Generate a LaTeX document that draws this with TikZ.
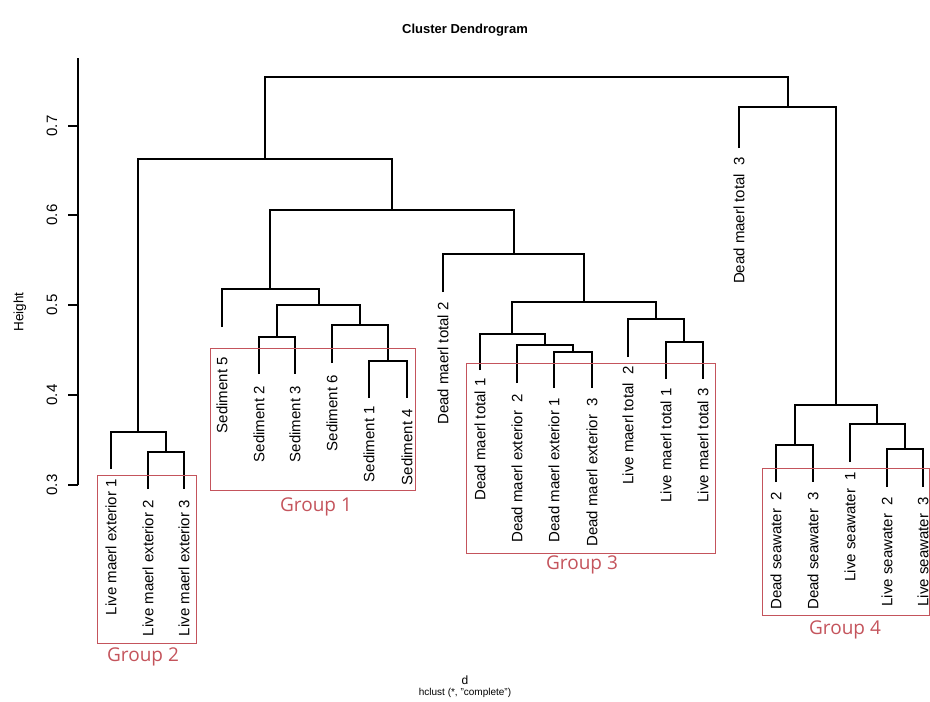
\documentclass[tikz,border=0pt]{standalone}
\usepackage{fontspec}
\setmainfont{Liberation Sans}
\newfontfamily\grpfont{Open Sans}
\definecolor{grpred}{RGB}{196,84,92}

\begin{document}
\begin{tikzpicture}[x=1pt,y=-1pt,
    branch/.style={line width=1.6pt},
    leaf/.style={rotate=90,anchor=east,inner sep=0pt,font=\fontsize{15}{17}\selectfont},
    ticklab/.style={rotate=90,inner sep=0pt,font=\fontsize{15}{17}\selectfont},
    grpbox/.style={draw=grpred,line width=0.9pt},
    grplabel/.style={text=grpred,font=\grpfont\fontsize{19}{22}\selectfont}]
    \useasboundingbox (0,0) rectangle (930,702);
    % title
    \node[font=\bfseries\fontsize{13}{15}\selectfont] (title) at (465,30) {Cluster Dendrogram};
    % axis
    \draw[branch] (78,485) -- (78,58);
    \foreach \h/\y [count=\i] in {0.3/485,0.4/395,0.5/305,0.6/215,0.7/126}{
        \draw[branch] (78,\y) -- (68,\y);
        \node[ticklab] (tick\i) at (52,\y) {\h};
    }
    \node[ticklab,font=\fontsize{13.5}{15}\selectfont] (ylab) at (20,312) {Height};
    % leaves
    \foreach \n/\x/\y/\g/\t in {
        lme1/111/469/10/Live maerl exterior 1,
        lme2/148/489/11/Live maerl exterior 2,
        lme3/184/489/11/Live maerl exterior 3,
        sed5/222/327/30/Sediment 5,
        sed2/259/374/12/Sediment 2,
        sed3/295/374/12/Sediment 3,
        sed6/332/363/12/Sediment 6,
        sed1/369/398/8/Sediment 1,
        sed4/407/398/11/Sediment 4,
        dmt2/443/292/10/Dead maerl total 2,
        dmt1/480/370/8/Dead maerl total 1,
        dme2/517/383/11/Dead maerl exterior\ \ 2,
        dme1/554/388/10/Dead maerl exterior 1,
        dme3/592/388/10/Dead maerl exterior\ \ 3,
        lmt2/628/357/9/Live maerl total\ \ 2,
        lmt1/666/379/9/Live maerl total 1,
        lmt3/703/379/9/Live maerl total 3,
        dmt3/739/148/9/Dead maerl total\ \ 3,
        ds2/776/482/10/Dead seawater\ \ 2,
        ds3/813/482/10/Dead seawater\ \ 3,
        ls1/850/462/10/Live seawater\ \ 1,
        ls2/887/487/10/Live seawater\ \ 2,
        ls3/923/487/10/Live seawater\ \ 3}{
        \coordinate (\n) at (\x,\y);
        \node[leaf] (l\n) at (\x,\y+\g) {\t};
    }
    % merges
    \coordinate (m23) at (166,452);
    \coordinate (mg2) at (138,432);
    \coordinate (m14) at (388,361);
    \coordinate (m6) at (360,325);
    \coordinate (ms23) at (277,337);
    \coordinate (ma) at (319,305);
    \coordinate (mg1) at (270,289);
    \coordinate (mdme13) at (573,352);
    \coordinate (mdme) at (545,345);
    \coordinate (mdm) at (512,334);
    \coordinate (mlmt13) at (684,342);
    \coordinate (mlm) at (656,319);
    \coordinate (mg3) at (584,302);
    \coordinate (mb) at (514,254);
    \coordinate (mc) at (392,210);
    \coordinate (ml) at (265,159);
    \coordinate (mds) at (795,445);
    \coordinate (mls23) at (905,449);
    \coordinate (mls) at (877,424);
    \coordinate (mg4) at (836,405);
    \coordinate (mr) at (788,107);
    \coordinate (root) at (526,77);
    % branches
    \draw[branch] (lme2) |- (m23) -| (lme3);
    \draw[branch] (lme1) |- (mg2) -| (m23);
    \draw[branch] (sed1) |- (m14) -| (sed4);
    \draw[branch] (sed6) |- (m6) -| (m14);
    \draw[branch] (sed2) |- (ms23) -| (sed3);
    \draw[branch] (ms23) |- (ma) -| (m6);
    \draw[branch] (sed5) |- (mg1) -| (ma);
    \draw[branch] (dme1) |- (mdme13) -| (dme3);
    \draw[branch] (dme2) |- (mdme) -| (mdme13);
    \draw[branch] (dmt1) |- (mdm) -| (mdme);
    \draw[branch] (lmt1) |- (mlmt13) -| (lmt3);
    \draw[branch] (lmt2) |- (mlm) -| (mlmt13);
    \draw[branch] (mdm) |- (mg3) -| (mlm);
    \draw[branch] (dmt2) |- (mb) -| (mg3);
    \draw[branch] (mg1) |- (mc) -| (mb);
    \draw[branch] (mg2) |- (ml) -| (mc);
    \draw[branch] (ds2) |- (mds) -| (ds3);
    \draw[branch] (ls2) |- (mls23) -| (ls3);
    \draw[branch] (ls1) |- (mls) -| (mls23);
    \draw[branch] (mds) |- (mg4) -| (mls);
    \draw[branch] (dmt3) |- (mr) -| (mg4);
    \draw[branch] (ml) |- (root) -| (mr);
    % groups
    \draw[grpbox] (97,475) rectangle (196,643);
    \node[grplabel] (g2) at (143,657) {Group 2};
    \draw[grpbox] (210,348) rectangle (415,490);
    \node[grplabel] (g1) at (316,507) {Group 1};
    \draw[grpbox] (466,363) rectangle (715,553);
    \node[grplabel] (g3) at (582,565) {Group 3};
    \draw[grpbox] (762,468) rectangle (929,615);
    \node[grplabel] (g4) at (845,630) {Group 4};
    % bottom text
    \node[font=\fontsize{12}{14}\selectfont] (xlab) at (465,680) {d};
    \node[font=\fontsize{10}{12}\selectfont] (meth) at (465,693) {hclust (*, "complete")};
\end{tikzpicture}
\end{document}
